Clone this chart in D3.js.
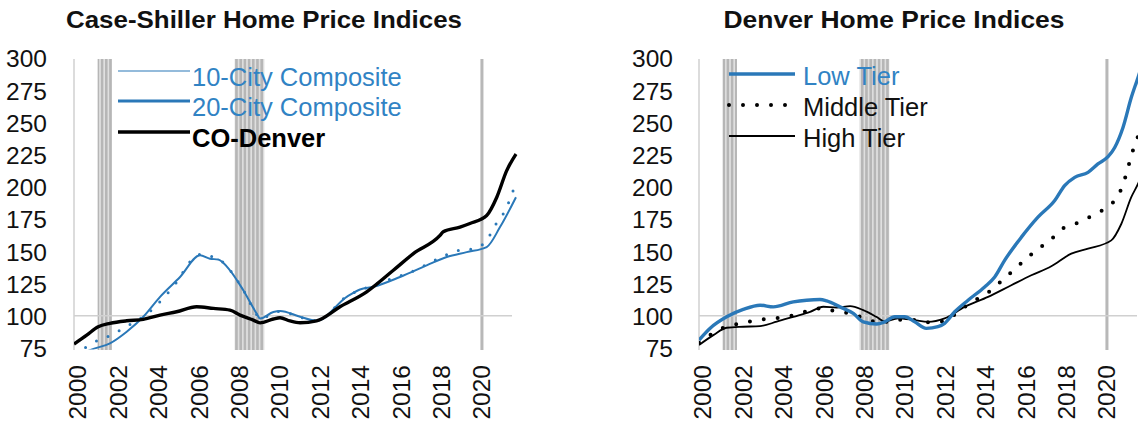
<!DOCTYPE html>
<html>
<head>
<meta charset="utf-8">
<script src="https://cdn.jsdelivr.net/npm/d3@7"></script>
<style>
  html, body { margin: 0; padding: 0; background: #fff; }
  svg { display: block; font-family: "Liberation Sans", Arial, sans-serif; }
</style>
</head>
<body>
<svg id="chart" width="1138" height="425"></svg>
<script>
// ---------- data ----------
const yTicks = [75, 100, 125, 150, 175, 200, 225, 250, 275, 300];
const xTicks = [2000, 2002, 2004, 2006, 2008, 2010, 2012, 2014, 2016, 2018, 2020];

// recession periods (fractional years)
const recStart = [2001.17, 2007.95, 2020.12];
const recEnd   = [2001.88, 2009.42, 2020.27];

// Left chart: Case-Shiller
const denverYears = [2000.0, 2000.63, 2001.2, 2001.78, 2002.61, 2003.43, 2004.26, 2005.08, 2006.07, 2006.9, 2007.72, 2008.22, 2008.88, 2009.21, 2009.87, 2010.2, 2010.69, 2011.19, 2012.01, 2013.17, 2014.49, 2015.81, 2016.8, 2018.12, 2018.28, 2019.11, 2019.6, 2020.43, 2020.93, 2021.42, 2021.88];
const denverVals  = [78.1, 85, 91.5, 94.1, 96.1, 97.2, 100.5, 103.1, 107, 105.7, 104.4, 100.5, 96.6, 94.5, 97.5, 98.5, 96, 94.6, 96.1, 107, 118.6, 135.3, 148.2, 162.3, 165.2, 168.8, 171.6, 177.8, 192, 212.6, 225.5];

const city20Years = [2000.0, 2001.0, 2001.78, 2002.61, 2003.43, 2004.26, 2005.25, 2006.24, 2006.73, 2007.14, 2007.72, 2008.38, 2009.04, 2009.21, 2009.87, 2010.2, 2011.19, 2012.01, 2013.5, 2014.16, 2014.82, 2016.14, 2017.46, 2018.45, 2019.44, 2020.43, 2021.09, 2021.88];
const city20Vals  = [68.5, 74.5, 78.6, 87.6, 99.2, 114.7, 130.1, 146.9, 144.3, 143.6, 135.3, 119.8, 101.8, 97.9, 103, 103.8, 99.3, 96.1, 114.7, 120.4, 122.5, 130.1, 139.1, 145.6, 149.4, 153.3, 168.8, 192];

const city10Years = [2000.0, 2000.38, 2001.12, 2001.83, 2002.52, 2003.85, 2004.84, 2006.24, 2007.14, 2008.38, 2009.04, 2009.21, 2010.2, 2011.19, 2012.01, 2013.5, 2014.5, 2016.22, 2016.88, 2017.54, 2018.28, 2019.02, 2019.77, 2020.43, 2020.84, 2021.34, 2021.83];
const city10Vals  = [72, 74, 80.4, 85, 91, 104.5, 121.1, 147.5, 144, 120, 101, 98, 103.5, 99, 96, 115, 122, 131.4, 135.3, 140.5, 146.3, 150.7, 152, 158.5, 170, 181.7, 201];

// Right chart: Denver tiers
const lowYears = [2000.0, 2000.54, 2001.37, 2002.19, 2003.02, 2003.68, 2004.67, 2005.33, 2005.99, 2006.32, 2006.98, 2007.64, 2008.13, 2008.8, 2009.19, 2009.69, 2010.18, 2010.68, 2011.25, 2011.83, 2012.16, 2012.66, 2013.32, 2014.14, 2014.64, 2015.13, 2015.96, 2016.78, 2017.61, 2018.1, 2018.6, 2019.26, 2019.75, 2020.25, 2020.58, 2020.99, 2021.4, 2021.73, 2021.88];
const lowVals  = [81.2, 90.2, 99.2, 104.9, 108.2, 106.9, 110.8, 112.1, 112.6, 111.5, 106.9, 101.8, 95.3, 93.6, 95.3, 99.2, 99.2, 95.3, 90.2, 91.5, 94.1, 103.1, 112.1, 122.4, 130.1, 143, 161, 176.5, 189.4, 201, 207.4, 211.3, 217.8, 223.4, 230.6, 246.1, 269.3, 284.7, 292];

const midYears = [2000.0, 2001.34, 2002.11, 2002.89, 2003.68, 2004.5, 2005.25, 2005.99, 2006.73, 2007.48, 2008.22, 2009.0, 2009.7, 2010.5, 2011.3, 2012.0, 2013.15, 2013.81, 2014.47, 2015.05, 2015.63, 2016.2, 2016.82, 2017.41, 2017.99, 2018.71, 2019.42, 2020.08, 2020.61, 2020.96, 2021.2, 2021.4, 2021.65, 2021.88];
const midVals  = [79, 91.5, 94.1, 96.6, 98, 99.7, 103.1, 105.7, 103.6, 101.8, 98, 94.5, 97, 97, 95, 95.5, 106.9, 113.4, 119.8, 128.1, 136.1, 144.3, 152.1, 159, 167.5, 171.9, 177.3, 183, 190.2, 200.5, 212.6, 224.2, 235.8, 245];

const highYears = [2000.0, 2000.71, 2001.37, 2002.19, 2003.02, 2003.85, 2004.67, 2005.5, 2006.15, 2006.82, 2007.48, 2008.13, 2008.8, 2009.2, 2009.85, 2010.68, 2011.34, 2012.16, 2013.15, 2014.31, 2015.46, 2016.45, 2017.44, 2018.43, 2019.26, 2020.41, 2020.91, 2021.4, 2021.73, 2021.88];
const highVals  = [77.3, 85, 90.7, 91.5, 92, 95.4, 99.2, 103.1, 107, 106.4, 107.5, 104.4, 99, 95.5, 98, 96.6, 95.3, 98, 106.9, 114.7, 123.7, 131.4, 138.4, 148.2, 152.1, 158.5, 171.4, 192, 202.3, 208];

// ---------- styles ----------
const BLUE = "#2a78b8";
const BLUE_TEXT = "#3183c4";
const GRID = "#d0d0d0";
const FONT = "'Liberation Sans', Arial, sans-serif";

const svg = d3.select("#chart");

// stripe pattern for recession shading
const defs = svg.append("defs");
const pat = defs.append("pattern").attr("id", "recPat").attr("patternUnits", "userSpaceOnUse")
  .attr("width", 4.2).attr("height", 10);
pat.append("rect").attr("width", 4.2).attr("height", 10).attr("fill", "#e0e0e0");
pat.append("rect").attr("width", 2.6).attr("height", 10).attr("fill", "#b6b6b6");

function zip(xs, ys) { return xs.map((d, i) => [d, ys[i]]); }

function drawPanel(cfg) {
  const g = svg.append("g");
  const x = d3.scaleLinear().domain([2000, 2022]).range([cfg.left, cfg.left + 20.2 * 22]);
  const y = d3.scaleLinear().domain([75, 300]).range([348, 58]);

  const clipId = "clip" + cfg.id;
  defs.append("clipPath").attr("id", clipId).append("rect")
    .attr("x", cfg.left).attr("y", y(300)).attr("width", 1138 - cfg.left).attr("height", y(75) - y(300) + 1.5);

  // title
  g.append("text").attr("x", cfg.titleX).attr("y", 28).attr("text-anchor", "middle")
    .attr("font-family", FONT).attr("font-weight", "bold").attr("font-size", 24)
    .attr("textLength", cfg.titleLen).attr("lengthAdjust", "spacingAndGlyphs")
    .attr("fill", "#111").text(cfg.title);

  // recession shading
  g.append("g").selectAll("rect").data(recStart.map((s, i) => [s, recEnd[i]])).join("rect")
    .attr("x", d => x(d[0])).attr("width", d => Math.max(2.6, x(d[1]) - x(d[0])))
    .attr("y", y(300) + 1).attr("height", y(75) - y(300) + 1)
    .attr("fill", d => (x(d[1]) - x(d[0]) < 4) ? "#b8b8b8" : "url(#recPat)");

  // axis lines
  g.append("line").attr("x1", x(2000)).attr("x2", x(2000)).attr("y1", y(300) + 1).attr("y2", y(75) + 2)
    .attr("stroke", GRID).attr("stroke-width", 1.5);
  g.append("line").attr("x1", x(2000)).attr("x2", Math.min(1138, x(2000) + 438)).attr("y1", y(100)).attr("y2", y(100))
    .attr("stroke", GRID).attr("stroke-width", 1.5);

  // y axis
  const ya = g.append("g").attr("transform", `translate(${cfg.yLabelX},0)`)
    .call(d3.axisLeft(y).tickValues(yTicks).tickSize(0).tickPadding(0));
  ya.select(".domain").remove();
  ya.selectAll("text").attr("font-family", FONT).attr("font-size", 24.5).attr("fill", "#111").attr("dy", "0.36em");

  // x axis
  const xa = g.append("g").attr("transform", `translate(3,365)`)
    .call(d3.axisBottom(x).tickValues(xTicks).tickFormat(d3.format("d")).tickSize(0).tickPadding(0));
  xa.select(".domain").remove();
  xa.selectAll("text").attr("font-family", FONT).attr("font-size", 24.5).attr("fill", "#111")
    .attr("x", 0).attr("y", 0).attr("dy", "0.36em").attr("text-anchor", "end").attr("transform", "rotate(-90)");

  // series
  const line = d3.line().x(d => x(d[0])).y(d => y(d[1])).curve(d3.curveMonotoneX);
  const lg = g.append("g").attr("clip-path", `url(#${clipId})`);
  cfg.series.forEach(s => {
    lg.append("path").datum(zip(s.xs, s.ys)).attr("d", line)
      .attr("fill", "none").attr("stroke", s.color).attr("stroke-width", s.width)
      .attr("stroke-linecap", s.dash ? "round" : "butt").attr("stroke-linejoin", "round")
      .attr("stroke-dasharray", s.dash || null);
  });

  // legend
  const leg = g.append("g");
  cfg.legend.forEach((L, i) => {
    const ly = cfg.legY[i];
    leg.append("line").attr("x1", cfg.legX1).attr("x2", cfg.legX2).attr("y1", ly).attr("y2", ly)
      .attr("stroke", L.color).attr("stroke-width", L.width)
      .attr("stroke-linecap", L.dash ? "round" : "butt").attr("stroke-dasharray", L.dash || null);
    leg.append("text").attr("x", cfg.legTextX).attr("y", ly + cfg.legTextDy).attr("dy", "0.35em")
      .attr("font-family", FONT).attr("font-size", 25.5).attr("font-weight", L.bold ? "bold" : "normal")
      .attr("fill", L.textColor).text(L.label);
  });
}

drawPanel({
  id: "L", left: 74, yLabelX: 47, title: "Case-Shiller Home Price Indices", titleX: 264, titleLen: 396,
  series: [
    { xs: city10Years, ys: city10Vals, color: BLUE, width: 3, dash: "0 12.5" },
    { xs: city20Years, ys: city20Vals, color: BLUE, width: 2 },
    { xs: denverYears, ys: denverVals, color: "#000", width: 3.4 }
  ],
  legX1: 118, legX2: 190, legTextX: 192, legY: [71, 101, 132], legTextDy: 6,
  legend: [
    { label: "10-City Composite", color: BLUE, width: 1.2, textColor: BLUE_TEXT },
    { label: "20-City Composite", color: BLUE, width: 3.2, textColor: BLUE_TEXT },
    { label: "CO-Denver", color: "#000", width: 3.4, textColor: "#000", bold: true }
  ]
});

drawPanel({
  id: "R", left: 699, yLabelX: 673, title: "Denver Home Price Indices", titleX: 894, titleLen: 341,
  series: [
    { xs: highYears, ys: highVals, color: "#000", width: 1.8 },
    { xs: midYears, ys: midVals, color: "#000", width: 4, dash: "0 14" },
    { xs: lowYears, ys: lowVals, color: BLUE, width: 3.4 }
  ],
  legX1: 729, legX2: 795, legTextX: 803, legY: [74, 105, 136], legTextDy: 2.5,
  legend: [
    { label: "Low Tier", color: BLUE, width: 3.4, textColor: BLUE_TEXT },
    { label: "Middle Tier", color: "#000", width: 4, dash: "0 14", textColor: "#111" },
    { label: "High Tier", color: "#000", width: 1.8, textColor: "#111" }
  ]
});
</script>
</body>
</html>
